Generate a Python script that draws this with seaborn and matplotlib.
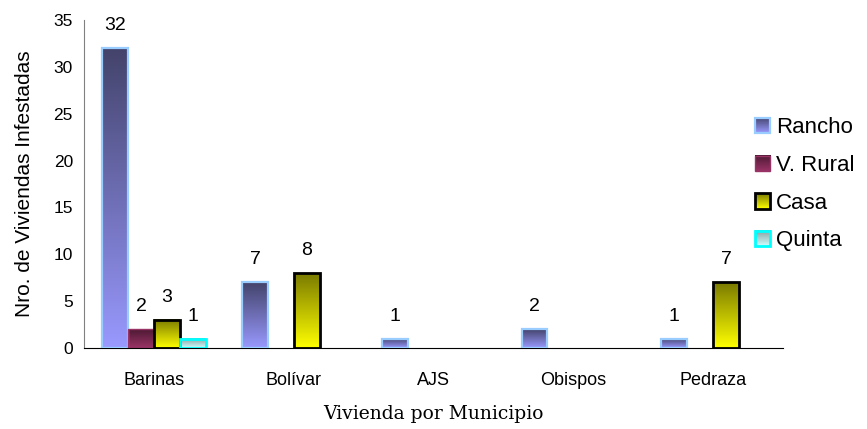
import numpy as np
import pandas as pd
import matplotlib
matplotlib.use('Agg')
import matplotlib.pyplot as plt
import seaborn as sns
from matplotlib.colors import LinearSegmentedColormap
from matplotlib.patches import Rectangle
from matplotlib.legend_handler import HandlerBase
from matplotlib.image import BboxImage
from matplotlib.transforms import Bbox, TransformedBbox

# data
municipios = ['Barinas', 'Bolívar', 'AJS', 'Obispos', 'Pedraza']
tipos = ['Rancho', 'V. Rural', 'Casa', 'Quinta']
rancho = [32, 7, 1, 2, 1]
v_rural = [2, 0, 0, 0, 0]
casa = [3, 8, 0, 0, 7]
quinta = [1, 0, 0, 0, 0]

# styles: (bottom colour, top colour, edge colour, edge width)
estilos = {
    'Rancho': ('#9999ff', '#43436b', '#99ccff', 1.6),
    'V. Rural': ('#993366', '#4d1a33', '#993366', 1.0),
    'Casa': ('#ffff00', '#7a7a00', '#000000', 2.0),
    'Quinta': ('#ccffff', '#8a9e9e', '#00ffff', 2.0),
}

df = pd.DataFrame({
    'Municipio': municipios * 4,
    'Tipo': np.repeat(tipos, len(municipios)),
    'Viviendas': rancho + v_rural + casa + quinta,
})

sns.set_style('white')
plt.rcParams['font.family'] = ['Liberation Sans', 'DejaVu Sans']
plt.rcParams['text.color'] = 'black'
plt.rcParams['axes.labelcolor'] = 'black'
plt.rcParams['xtick.labelcolor'] = 'black'
plt.rcParams['ytick.labelcolor'] = 'black'

fig = plt.figure(figsize=(8.67, 4.29), dpi=100)
ax = fig.add_axes([0.097, 0.189, 0.806, 0.764])

palette = {t: estilos[t][0] for t in tipos}
sns.barplot(data=df, x='Municipio', y='Viviendas', hue='Tipo', hue_order=tipos,
            order=municipios, width=0.74, palette=palette, ax=ax, legend=False,
            errorbar=None, saturation=1)

cmaps = {t: LinearSegmentedColormap.from_list(t, [estilos[t][0], estilos[t][1]]) for t in tipos}
grad = np.linspace(0, 1, 256).reshape(-1, 1)

for tipo, cont in zip(tipos, ax.containers):
    _, _, edge, lw = estilos[tipo]
    for bar in cont:
        h = bar.get_height()
        if h <= 0:
            bar.set_visible(False)
            continue
        x = bar.get_x()
        w = bar.get_width()
        ax.imshow(grad, extent=[x, x + w, 0, h], origin='lower', aspect='auto',
                  cmap=cmaps[tipo], interpolation='bilinear', zorder=2)
        bar.set_facecolor('none')
        bar.set_edgecolor(edge)
        bar.set_linewidth(lw)
        bar.set_zorder(3)
        ax.annotate(f'{int(h)}', (x + w / 2, h), xytext=(0, 10), textcoords='offset points',
                    ha='center', va='bottom', fontsize=14)

ax.set_xlim(-0.5, 4.5)
ax.set_ylim(0, 35)
ax.set_yticks(range(0, 36, 5))
ax.set_xticks(np.arange(-0.5, 4.6, 1), minor=True)
ax.tick_params(axis='x', which='major', length=0, pad=17, labelsize=13)
ax.tick_params(axis='x', which='minor', length=5, width=1, color='#808080', direction='out')
ax.tick_params(axis='y', length=5, width=1, color='#808080', direction='out', labelsize=12.5, pad=3)

for s in ['top', 'right']:
    ax.spines[s].set_visible(False)
ax.spines['left'].set_color('#808080')
ax.spines['bottom'].set_color('#000000')

ax.set_ylabel('Nro. de Viviendas Infestadas', fontsize=15, labelpad=14)
ax.set_xlabel('Vivienda por Municipio', fontsize=13.5, family='DejaVu Serif', labelpad=12)


class GradientHandler(HandlerBase):
    def __init__(self, tipo):
        super().__init__()
        self.tipo = tipo

    def create_artists(self, legend, orig_handle, xdescent, ydescent, width, height, fontsize, trans):
        _, _, edge, lw = estilos[self.tipo]
        bbox = TransformedBbox(Bbox.from_bounds(-xdescent, -ydescent, width, height), trans)
        img = BboxImage(bbox, cmap=cmaps[self.tipo], interpolation='bilinear', origin='lower')
        img.set_data(np.linspace(0, 1, 64).reshape(-1, 1))
        rect = Rectangle((-xdescent, -ydescent), width, height, facecolor='none',
                         edgecolor=edge, linewidth=lw, transform=trans)
        return [img, rect]


handles = [Rectangle((0, 0), 1, 1) for _ in tipos]
fig.legend(handles, tipos, loc='center left', bbox_to_anchor=(0.86, 0.57),
           frameon=False, fontsize=16, handlelength=0.68, handleheight=0.68,
           handletextpad=0.3, labelspacing=0.75, borderaxespad=0,
           handler_map={h: GradientHandler(t) for h, t in zip(handles, tipos)})

fig.savefig('out.png', dpi=100)
